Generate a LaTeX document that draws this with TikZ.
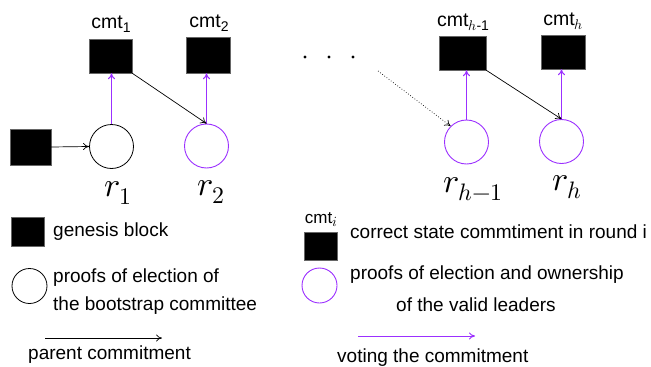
\documentclass[tikz,border=0pt]{standalone}
\usepackage{fontspec}
\usepackage{unicode-math}
\setmainfont{Liberation Sans}
\setmathfont{Latin Modern Math}
\usetikzlibrary{arrows.meta}
\definecolor{vote}{RGB}{155,48,255}
\newcommand{\cmtsub}[1]{cmt\raisebox{-0.35ex}{\fontsize{14}{16}\selectfont #1}}
\begin{document}
\begin{tikzpicture}[x=1pt,y=-1pt,
  blk/.style={fill=black,draw=black!60,line width=0.4pt,inner sep=0pt},
  prf/.style={circle,draw=black,line width=0.8pt,minimum size=44pt,inner sep=0pt},
  vprf/.style={circle,draw=vote,line width=0.9pt,minimum size=44pt,inner sep=0pt},
  parent/.style={-{To[length=6pt,width=7pt]},line width=0.7pt},
  votearr/.style={-{To[length=6pt,width=7pt]},draw=vote,line width=1pt},
  lbl/.style={font=\fontsize{19.5}{22}\selectfont,inner sep=0pt},
  rlab/.style={font=\fontsize{34}{40}\selectfont,inner sep=0pt},
  txt/.style={font=\fontsize{19}{22}\selectfont,inner sep=0pt,anchor=west}]
\useasboundingbox (0,0) rectangle (651,367);
% main chain
\node[blk,minimum width=43pt,minimum height=34pt] (c1) at (110.5,56) {};
\node[blk,minimum width=44pt,minimum height=36pt] (c2) at (208,55) {};
\node[blk,minimum width=47pt,minimum height=34pt] (ch1) at (462.5,53) {};
\node[blk,minimum width=44pt,minimum height=34pt] (ch) at (563,52) {};
\node[blk,minimum width=41pt,minimum height=36pt] (g) at (30.5,147) {};
\node[prf] (r1) at (111.5,146.5) {};
\node[vprf] (r2) at (206.5,146) {};
\node[vprf] (rh1) at (466.5,142) {};
\node[vprf] (rh) at (561.5,141.5) {};
% labels
\node[lbl] (lc1) at (111,24) {\cmtsub{1}};
\node[lbl] (lc2) at (209,23) {\cmtsub{2}};
\node[lbl] (lch1) at (463,22) {\cmtsub{$h$-1}};
\node[lbl] (lch) at (563,21) {\cmtsub{$h$}};
\node[rlab] (lr1) at (118,193) {$r_1$};
\node[rlab] (lr2) at (211,192) {$r_2$};
\node[rlab] (lrh1) at (473,189) {$r_{h-1}$};
\node[rlab] (lrh) at (567,187) {$r_h$};
% dots
\fill (305,57) circle (1.6pt) (329,57) circle (1.6pt) (353,57) circle (1.6pt);
% connectors
\draw[parent] (g.east) -- (r1.west);
\draw[votearr] (r1.north) -- (r1.north |- c1.south);
\draw[votearr] (r2.north) -- (r2.north |- c2.south);
\draw[votearr] (rh1.north) -- (rh1.north |- ch1.south);
\draw[votearr] (rh.north) -- (rh.north |- ch.south);
\draw[parent] (c1.south east) -- (r2.north);
\draw[parent] (ch1.south east) -- (rh.north);
\coordinate (dstart) at (378,71);
\draw[parent,dotted] (dstart) -- (rh1.north west);
% legend left
\node[blk,minimum width=33pt,minimum height=29pt] (lg) at (27.5,231.5) {};
\node[txt] (tg) at (53,232) {genesis block};
\node[prf,minimum size=35pt] (lp) at (29.5,286) {};
\node[txt] (tp1) at (53,278) {proofs of election of};
\node[txt] (tp2) at (53,306) {the bootstrap committee};
\coordinate (pa1) at (45,338);
\coordinate (pa2) at (162,338);
\draw[parent] (pa1) -- (pa2);
\node[txt] (tpa) at (28,355) {parent commitment};
% legend right
\node[lbl,font=\fontsize{17}{20}\selectfont] (lci) at (321,220) {\cmtsub{$i$}};
\node[blk,minimum width=33pt,minimum height=28pt] (lb) at (320.5,246) {};
\node[txt] (tc) at (350,232) {correct state commtiment in round i};
\node[vprf,minimum size=35pt] (lv) at (319.5,285.5) {};
\node[txt] (tv1) at (350,275) {proofs of election and ownership};
\node[txt] (tv2) at (396,305) {of the valid leaders};
\coordinate (va1) at (358,336);
\coordinate (va2) at (475,336);
\draw[votearr] (va1) -- (va2);
\node[txt] (tva) at (337,358) {voting the commitment};
\end{tikzpicture}
\end{document}
